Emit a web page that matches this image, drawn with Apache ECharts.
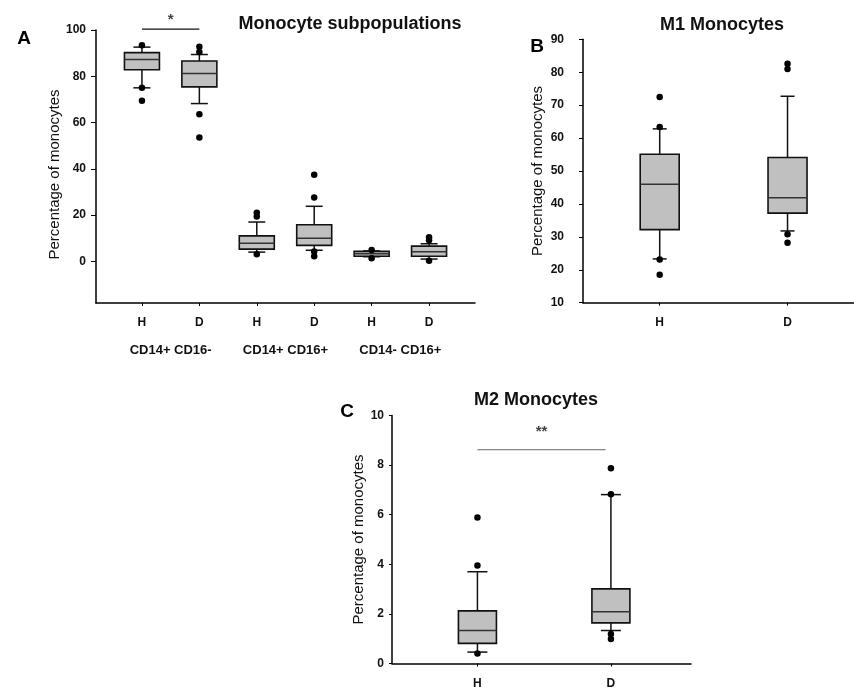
<!DOCTYPE html>
<html>
<head>
<meta charset="utf-8">
<script src="https://cdn.jsdelivr.net/npm/echarts@6/dist/echarts.min.js"></script>
<style>
html,body{margin:0;padding:0;background:#fff;}
#chart{width:854px;height:689px;}
</style>
</head>
<body>
<div id="chart"></div>
<script>
// ---------- DATA ----------
// Panel A: Monocyte subpopulations
const catsA = ['H', 'D', 'H', 'D', 'H', 'D'];
const groupsA = ['CD14+ CD16-', 'CD14+ CD16+', 'CD14- CD16+'];
const groupPosA = [1.5, 3.5, 5.5];
// [lower whisker, Q1, median, Q3, upper whisker]
const boxesA = [
  [75.0, 82.8, 87.3, 90.2, 92.6],
  [68.2, 75.4, 81.2, 86.6, 89.4],
  [4.0, 5.3, 7.8, 11.0, 17.0],
  [4.8, 6.9, 10.0, 15.8, 23.8],
  [2.0, 2.2, 3.3, 4.3, 4.5],
  [1.0, 2.2, 4.2, 6.6, 7.6]
];
const outliersA = [
  [93.4, 75.0, 69.4],
  [92.8, 90.5, 63.6, 53.5],
  [21.0, 19.4, 3.1],
  [37.4, 27.6, 4.3, 2.2],
  [4.9, 1.3],
  [10.4, 9.1, 0.3]
];
const ticksA = [0, 20, 40, 60, 80, 100];
const sigA = {from: 1, to: 2, lineY: 100.4, starY: 104.3, text: '*'};

// Panel B: M1 Monocytes
const catsB = ['H', 'D'];
const boxesB = [
  [23.3, 32.2, 46.0, 55.1, 62.8],
  [31.8, 37.2, 41.9, 54.1, 72.7]
];
const outliersB = [
  [72.5, 63.4, 23.1, 18.5],
  [82.6, 81.0, 30.8, 28.2]
];

// Panel C: M2 Monocytes
const catsC = ['H', 'D'];
const boxesC = [
  [0.46, 0.81, 1.33, 2.12, 3.70],
  [1.33, 1.64, 2.09, 3.01, 6.81]
];
const outliersC = [
  [5.89, 3.95, 0.40],
  [7.87, 6.82, 1.19, 0.99]
];
const sigC = {from: 1, to: 1.96, lineY: 8.62, starY: 9.33, text: '**'};

const yNameText = 'Percentage of monocytes';
const titles = ['Monocyte subpopulations', 'M1 Monocytes', 'M2 Monocytes'];
const letters = ['A', 'B', 'C'];

// ---------- BUILD ----------
const FONT = "'Liberation Sans', Arial, sans-serif";
const chart = echarts.init(document.getElementById('chart'), null, {renderer: 'canvas'});

function boxData(boxes) {
  return boxes.map((b, i) => [i + 1].concat(b));
}
function outlierData(outs) {
  const d = [];
  outs.forEach((arr, i) => arr.forEach(v => d.push([i + 1, v])));
  return d;
}
function makeRender(boxW, capW) {
  return function (params, api) {
    const x = api.value(0);
    const lo = api.coord([x, api.value(1)]);
    const q1 = api.coord([x, api.value(2)]);
    const md = api.coord([x, api.value(3)]);
    const q3 = api.coord([x, api.value(4)]);
    const hi = api.coord([x, api.value(5)]);
    const cx = lo[0];
    const ls = {stroke: '#111', lineWidth: 1.5};
    return {
      type: 'group',
      children: [
        {type: 'line', shape: {x1: cx, y1: q3[1], x2: cx, y2: hi[1]}, style: ls},
        {type: 'line', shape: {x1: cx, y1: q1[1], x2: cx, y2: lo[1]}, style: ls},
        {type: 'line', shape: {x1: cx - capW / 2, y1: hi[1], x2: cx + capW / 2, y2: hi[1]}, style: ls},
        {type: 'line', shape: {x1: cx - capW / 2, y1: lo[1], x2: cx + capW / 2, y2: lo[1]}, style: ls},
        {type: 'rect', shape: {x: cx - boxW / 2, y: q3[1], width: boxW, height: q1[1] - q3[1]},
          style: {fill: '#c0c0c0', stroke: '#111', lineWidth: 1.6}},
        {type: 'line', shape: {x1: cx - boxW / 2, y1: md[1], x2: cx + boxW / 2, y2: md[1]},
          style: {stroke: '#333', lineWidth: 1.5}}
      ]
    };
  };
}

const axisLineStyle = {show: true, onZero: false, lineStyle: {color: '#000', width: 1.5}};
const tickLabelStyle = {color: '#111', fontSize: 12, fontWeight: 'bold', fontFamily: FONT};
const catLabelStyle = {color: '#111', fontSize: 12, fontWeight: 'bold', fontFamily: FONT};
const groupLabelStyle = {color: '#111', fontSize: 13, fontWeight: 'bold', fontFamily: FONT};

function xAxisFor(grid, min, max, cats) {
  const vals = cats.map((c, i) => i + 1);
  return {
    type: 'value', gridIndex: grid, min: min, max: max, position: 'bottom',
    splitLine: {show: false},
    axisLine: axisLineStyle,
    axisTick: {show: true, customValues: vals, length: 3, inside: false, lineStyle: {color: '#000', width: 1}},
    axisLabel: Object.assign({show: true, customValues: vals, margin: 14,
      formatter: v => cats[Math.round(v) - 1] || ''}, catLabelStyle)
  };
}
function yAxisFor(grid, min, max, interval, customVals, margin, gap, tickLen, namePad) {
  const ax = {
    type: 'value', gridIndex: grid, min: min, max: max,
    splitLine: {show: false},
    axisLine: axisLineStyle,
    axisTick: {show: true, length: tickLen, lineStyle: {color: '#000', width: 1}},
    axisLabel: Object.assign({margin: margin}, tickLabelStyle),
    name: yNameText, nameLocation: 'middle', nameGap: gap, nameRotate: 90,
    nameTextStyle: {fontSize: 15, color: '#111', fontFamily: FONT, fontWeight: 'normal',
      padding: namePad || 0}
  };
  if (interval) ax.interval = interval;
  if (customVals) {
    ax.axisTick.customValues = customVals;
    ax.axisLabel.customValues = customVals;
  }
  return ax;
}

const option = {
  backgroundColor: '#fff',
  animation: false,
  title: [
    {text: titles[0], left: 350, top: 15, textAlign: 'center', padding: 0,
      textStyle: {fontSize: 18, fontWeight: 'bold', color: '#111', fontFamily: FONT}},
    {text: titles[1], left: 722, top: 16, textAlign: 'center', padding: 0,
      textStyle: {fontSize: 18, fontWeight: 'bold', color: '#111', fontFamily: FONT}},
    {text: titles[2], left: 536, top: 391, textAlign: 'center', padding: 0,
      textStyle: {fontSize: 18, fontWeight: 'bold', color: '#111', fontFamily: FONT}},
    {text: letters[0], left: 24, top: 29, textAlign: 'center', padding: 0,
      textStyle: {fontSize: 19, fontWeight: 'bold', color: '#000', fontFamily: FONT}},
    {text: letters[1], left: 537, top: 37, textAlign: 'center', padding: 0,
      textStyle: {fontSize: 19, fontWeight: 'bold', color: '#000', fontFamily: FONT}},
    {text: letters[2], left: 347, top: 402, textAlign: 'center', padding: 0,
      textStyle: {fontSize: 19, fontWeight: 'bold', color: '#000', fontFamily: FONT}}
  ],
  grid: [
    {left: 96, top: 30, width: 379, height: 273, containLabel: false, outerBoundsMode: 'none'},
    {left: 583, top: 39.3, width: 271, height: 263.4, containLabel: false, outerBoundsMode: 'none'},
    {left: 392, top: 415.5, width: 299, height: 248, containLabel: false, outerBoundsMode: 'none'}
  ],
  xAxis: [
    xAxisFor(0, 0.2, 6.8, catsA),
    {
      type: 'value', gridIndex: 0, min: 0.2, max: 6.8, position: 'bottom',
      splitLine: {show: false}, axisLine: {show: false, onZero: false}, axisTick: {show: false},
      axisLabel: Object.assign({customValues: groupPosA, margin: 41,
        formatter: v => groupsA[groupPosA.indexOf(v)] || ''}, groupLabelStyle)
    },
    xAxisFor(1, 0.4, 2.52, catsB),
    xAxisFor(2, 0.36, 2.6, catsC)
  ],
  yAxis: [
    yAxisFor(0, -18, 100, null, ticksA, 10, 32, 5, [0, 16, 0, 0]),
    yAxisFor(1, 10, 90, 10, null, 19, 38, 4),
    yAxisFor(2, 0, 10, 2, null, 8, 26, 3)
  ],
  series: [
    // Panel A
    {type: 'custom', xAxisIndex: 0, yAxisIndex: 0, renderItem: makeRender(35, 17),
      encode: {x: 0, y: [1, 2, 3, 4, 5]}, data: boxData(boxesA), z: 2},
    {type: 'scatter', xAxisIndex: 0, yAxisIndex: 0, symbol: 'circle', symbolSize: 6.5,
      itemStyle: {color: '#000', opacity: 1}, data: outlierData(outliersA), z: 3, clip: false},
    {type: 'line', xAxisIndex: 0, yAxisIndex: 0, data: [[sigA.from, sigA.lineY], [sigA.to, sigA.lineY]],
      symbol: 'none', lineStyle: {color: '#111', width: 1.2}, clip: false, z: 3},
    {type: 'scatter', xAxisIndex: 0, yAxisIndex: 0, data: [[(sigA.from + sigA.to) / 2, sigA.starY]],
      symbolSize: 0, clip: false,
      label: {show: true, position: 'inside', formatter: sigA.text, fontSize: 15, fontWeight: 'bold', color: '#111', fontFamily: FONT}},
    // Panel B
    {type: 'custom', xAxisIndex: 2, yAxisIndex: 1, renderItem: makeRender(39, 14),
      encode: {x: 0, y: [1, 2, 3, 4, 5]}, data: boxData(boxesB), z: 2},
    {type: 'scatter', xAxisIndex: 2, yAxisIndex: 1, symbol: 'circle', symbolSize: 6.5,
      itemStyle: {color: '#000', opacity: 1}, data: outlierData(outliersB), z: 3, clip: false},
    // Panel C
    {type: 'custom', xAxisIndex: 3, yAxisIndex: 2, renderItem: makeRender(38, 20),
      encode: {x: 0, y: [1, 2, 3, 4, 5]}, data: boxData(boxesC), z: 2},
    {type: 'scatter', xAxisIndex: 3, yAxisIndex: 2, symbol: 'circle', symbolSize: 6.5,
      itemStyle: {color: '#000', opacity: 1}, data: outlierData(outliersC), z: 3, clip: false},
    {type: 'line', xAxisIndex: 3, yAxisIndex: 2, data: [[sigC.from, sigC.lineY], [sigC.to, sigC.lineY]],
      symbol: 'none', lineStyle: {color: '#666', width: 1}, clip: false, z: 3},
    {type: 'scatter', xAxisIndex: 3, yAxisIndex: 2, data: [[(sigC.from + sigC.to) / 2, sigC.starY]],
      symbolSize: 0, clip: false,
      label: {show: true, position: 'inside', formatter: sigC.text, fontSize: 15, fontWeight: 'bold', color: '#111', fontFamily: FONT}}
  ]
};
chart.setOption(option);
</script>
</body>
</html>
